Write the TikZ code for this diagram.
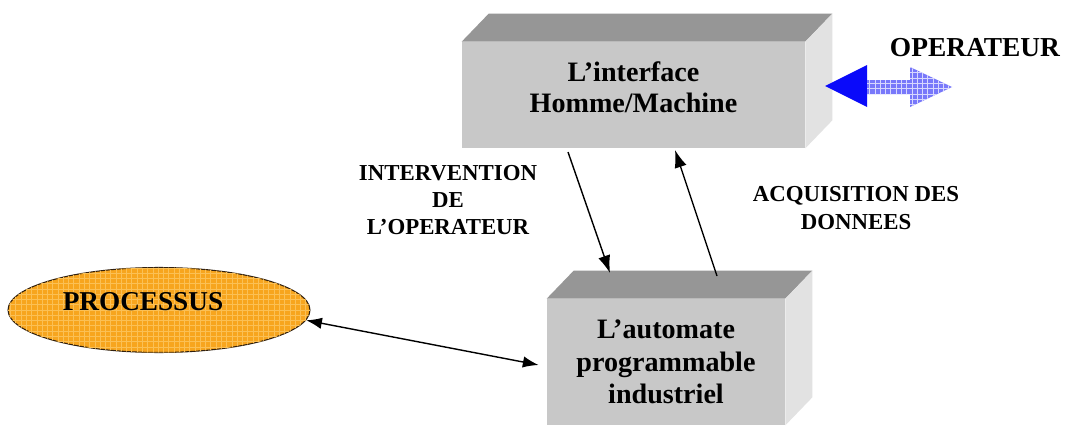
\documentclass[tikz,border=0pt]{standalone}
\usepackage{fontspec}
\setmainfont{Liberation Serif}
\usetikzlibrary{shapes.geometric,patterns,arrows.meta}

\definecolor{facefront}{RGB}{200,200,200}
\definecolor{facetop}{RGB}{150,150,150}
\definecolor{faceside}{RGB}{226,226,226}
\definecolor{procfill}{RGB}{247,165,30}
\definecolor{procgrid}{RGB}{251,192,85}
\definecolor{opblue}{RGB}{10,10,250}
\definecolor{oplight}{RGB}{120,120,250}

\tikzset{
    front/.style={rectangle, fill=facefront, inner sep=0pt, align=center,
        font=\fontsize{16}{18.5}\selectfont\bfseries},
    lbl/.style={align=center, font=\fontsize{13}{15.5}\selectfont\bfseries},
    link/.style={-{Latex[length=10pt,width=7pt]}, line width=0.8pt},
    dlink/.style={{Latex[length=9pt,width=6.5pt]}-{Latex[length=9pt,width=6.5pt]}, line width=0.8pt},
}

\begin{document}
\begin{tikzpicture}[x=0.02cm, y=-0.02cm]
    \path[use as bounding box, fill=white] (0,0) rectangle (1066,426);

    % the two blocks (front faces)
    \node[front, font=\fontsize{16}{17.5}\selectfont\bfseries, text depth=9pt,
        minimum width=6.86cm, minimum height=2.12cm] (ihm) at (633.5,95) {L'interface\\Homme/Machine};
    \node[front, minimum width=4.76cm, minimum height=2.52cm] (api) at (666,362) {L'automate\\programmable\\industriel};

    % top and side faces
    \foreach \b in {ihm, api} {
        \fill[facetop] (\b.north west) -- ++(27,-28) -- ([shift={(27,-28)}]\b.north east) -- (\b.north east) -- cycle;
        \fill[faceside] (\b.north east) -- ++(27,-28) -- ([shift={(27,-28)}]\b.south east) -- (\b.south east) -- cycle;
    }

    \node[ellipse, draw=black!75!brown, line width=0.6pt, fill=procfill,
        postaction={pattern=grid, pattern color=procgrid},
        minimum width=6.04cm, minimum height=1.7cm] (proc) at (159,310) {};
    \node[font=\fontsize{15.5}{17}\selectfont\bfseries] (proctxt) at (143,302) {PROCESSUS};

    \node[lbl] (intv) at (448,200) {INTERVENTION\\DE\\L'OPERATEUR};
    \node[lbl] (acq) at (856,208) {ACQUISITION DES\\DONNEES};
    \node[font=\fontsize{15.6}{17}\selectfont\bfseries] (op) at (975,48) {OPERATEUR};

    \coordinate (d1) at (568,152);
    \coordinate (d2) at (610,273);
    \coordinate (u1) at (717,276);
    \coordinate (u2) at (675,150);
    \foreach \from/\to in {d1/d2, u1/u2}
        \draw[link] (\from) -- (\to);
    \draw[dlink] (proc.-4) -- ([shift={(-8,3)}]api.west);

    % operator arrow
    \coordinate (optip) at (825,86);
    \fill[opblue] (optip) -- ++(42,-21) -- ++(0,42) -- cycle;
    \path[fill=oplight, postaction={pattern=grid, pattern color=white!70!oplight}]
        ([shift={(42,-6)}]optip) -- ++(43,0) -- ++(0,-13) -- ++(42,20) -- ++(-42,20) -- ++(0,-13) -- ++(-43,0) -- cycle;
\end{tikzpicture}
\end{document}
